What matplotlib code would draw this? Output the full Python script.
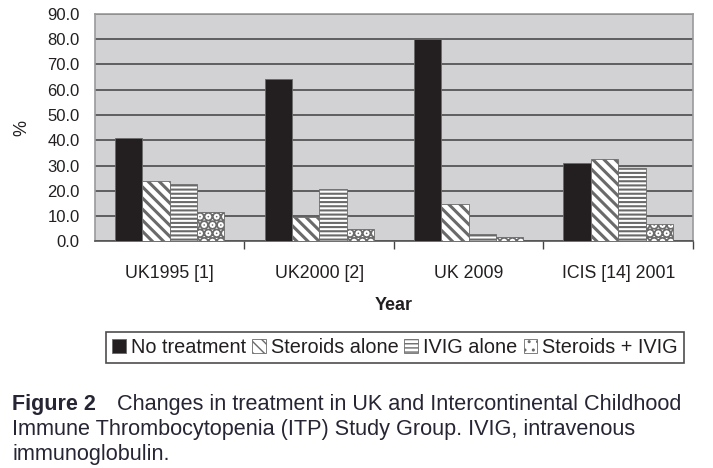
import numpy as np
import matplotlib.pyplot as plt

groups = ["UK1995 [1]", "UK2000 [2]", "UK 2009", "ICIS [14] 2001"]
series = ["No treatment", "Steroids alone", "IVIG alone", "Steroids + IVIG"]
no_treatment = [41.0, 64.0, 80.0, 31.0]
steroids = [24.0, 9.8, 15.0, 32.7]
ivig = [22.7, 20.6, 2.8, 29.2]
steroids_ivig = [11.7, 5.0, 1.8, 6.8]
yticks = [0, 10, 20, 30, 40, 50, 60, 70, 80, 90]

plt.rcParams['font.family'] = ['Liberation Sans', 'DejaVu Sans']
ink = '#231f20'

fig = plt.figure(figsize=(7.13, 4.68), dpi=100)
ax = fig.add_axes([0.1332, 0.484, 0.8387, 0.487])
ax.set_facecolor('#d2d2d4')

x = np.arange(len(groups))
w = 0.183
faces = [ink, 'white', 'white', 'white']
hatches = [None, '\\\\\\', '----', '..']
hlw = [1.0, 2.2, 1.5, 5.5]
data = [no_treatment, steroids, ivig, steroids_ivig]
for i, vals in enumerate(data):
    with plt.rc_context({'hatch.linewidth': hlw[i], 'hatch.color': ink}):
        ax.bar(x + (i - 1.5) * w, vals, w, color=faces[i], hatch=hatches[i],
               edgecolor='#6a6a6a', linewidth=0.6, label=series[i], zorder=3)

ax.set_xlim(-0.5, 3.5)
ax.set_ylim(0, 90)
ax.set_yticks(yticks)
ax.set_yticklabels(["%.1f" % v for v in yticks], fontsize=12, color=ink)
ax.set_xticks(x)
ax.set_xticklabels(groups, fontsize=12.8, color=ink)
ax.set_xticks([0.5, 1.5, 2.5, 3.5], minor=True)
ax.tick_params(axis='x', which='major', length=0, pad=17)
ax.tick_params(axis='x', which='minor', length=6, color='#444444', width=1.0)
ax.tick_params(axis='y', length=0, pad=11)
ax.yaxis.grid(True, color='#555555', linewidth=1.3, zorder=0)
for s in ax.spines.values():
    s.set_color('#9a9a9c')
    s.set_linewidth(1.2)
ax.spines['bottom'].set_color('#555555')
ax.set_ylabel('%', fontsize=13, labelpad=12, color=ink)
ax.set_xlabel('Year', fontsize=13, fontweight='bold', labelpad=11, color=ink)

leg = fig.legend(loc='upper left', bbox_to_anchor=(106 / 713, 1 - 332 / 468), ncol=4,
                 frameon=True, fancybox=False, edgecolor=ink,
                 fontsize=14.3, handlelength=0.7, handleheight=0.7,
                 handletextpad=0.25, columnspacing=0.3, borderpad=0.3,
                 borderaxespad=0)
leg.get_frame().set_linewidth(1.2)
for t in leg.get_texts():
    t.set_color(ink)

cap = '#262534'
fig.text(12 / 713, 1 - 410 / 468, "Figure 2", fontsize=15.5, fontweight='bold', color=cap)
fig.text(117 / 713, 1 - 410 / 468, "Changes in treatment in UK and Intercontinental Childhood",
         fontsize=15.6, color=cap)
fig.text(12 / 713, 1 - 435 / 468, "Immune Thrombocytopenia (ITP) Study Group. IVIG, intravenous",
         fontsize=15.6, color=cap)
fig.text(12 / 713, 1 - 460 / 468, "immunoglobulin.", fontsize=15.6, color=cap)

fig.savefig('out.png', dpi=100)
